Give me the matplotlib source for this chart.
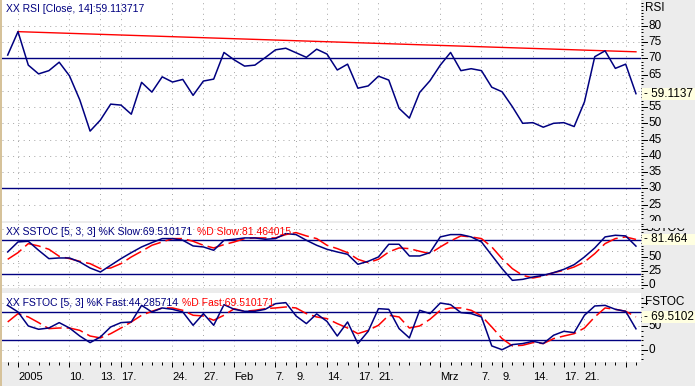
import matplotlib
matplotlib.use("Agg")
import matplotlib.pyplot as plt
from matplotlib.patches import Rectangle
import numpy as np

W, H, DPI = 695, 386, 100

# ---------------- data ----------------
rsi = [71.0, 78.2, 67.9, 65.2, 66.2, 68.8, 64.6, 57.2, 47.6, 51.0,
       55.9, 55.6, 52.8, 62.6, 59.6, 64.3, 62.7, 63.5, 58.6, 63.0,
       63.6, 71.8, 69.5, 67.6, 67.9, 70.2, 72.6, 73.1, 71.7, 70.3,
       72.8, 71.3, 66.4, 68.2, 60.8, 61.5, 64.5, 63.3, 54.6, 51.6,
       59.5, 63.1, 67.9, 71.8, 66.2, 66.8, 66.2, 61.1, 59.7, 55.1,
       50.0, 50.2, 48.8, 50.0, 50.2, 49.0, 56.6, 70.5, 72.3, 66.9,
       68.2, 59.11]
trend_idx = [1, 61]
trend_val = [78.2, 72.0]

sstoc_k = [59, 77, 78.2, 62, 47, 48.2, 48.2, 41, 30.2, 23,
           35, 47, 57.8, 68, 75.8, 83, 83, 80, 69.8, 68,
           62, 80, 81.8, 84.2, 84.2, 81.8, 83, 92, 90.2, 80,
           71, 63.8, 59, 54.8, 36.8, 42.2, 50, 72.8, 72.8, 51.8,
           51.8, 57.8, 86, 90.2, 90.2, 86, 77, 53, 29, 8,
           9.8, 14, 17, 21.8, 27.8, 36.2, 50, 66.2, 86, 89,
           87.8, 69.5]
sstoc_d = [45.8, 57.8, 74, 69.8, 63.8, 51.2, 47, 42.2, 38, 29,
           30.2, 38, 50, 60.2, 71, 77, 83, 83, 78.2, 71,
           66.2, 72.2, 77, 83, 84.2, 84.2, 84.2, 90.2, 93.8, 87.8,
           83, 71, 65, 57.8, 45.8, 39.8, 45.8, 59, 66.2, 65,
           60.2, 56, 68, 78.8, 87.8, 86, 83, 68, 47, 29,
           17, 12.2, 15.8, 21.8, 26, 32, 41, 56, 74, 83,
           86, 81.46]
fstoc_k = [94, 80, 50.3, 43.3, 46, 57.4, 46, 29, 15, 27,
           48.2, 57.4, 58.8, 94, 80, 88.5, 85.6, 80, 51.8, 76.5,
           51.8, 95.5, 85.6, 81.4, 81.4, 85.6, 97.6, 99.8, 71.5, 55.3,
           76, 60, 29, 58.8, 13, 39, 87, 85.6, 44.7, 25,
           83.5, 76.5, 99, 95.5, 78.6, 76.5, 69.4, 8, 0, 10.8,
           13, 17.9, 13, 30.6, 39, 36.2, 73, 92.7, 94, 85.6,
           81.4, 44.29]
fstoc_d = [58.8, 76.5, 69.4, 57.4, 44.7, 46, 46, 41, 29, 25,
           34, 46, 58.8, 73, 81.4, 88.5, 88.5, 83.5, 73, 71.5,
           62.4, 73, 87, 81.4, 83.5, 87, 88.5, 90.6, 88.5, 76.5,
           69.4, 65.9, 55.3, 46, 34, 41, 51.8, 73, 69.4, 46,
           50.3, 64.5, 83.5, 88.5, 88.5, 83.5, 71.5, 48.2, 23.5, 8,
           9.4, 15, 13, 23.5, 29, 34, 46, 69.4, 88.5, 85.6,
           81.4, 69.51]

tick_idx = [1, 6, 9, 11, 16, 19, 22, 26, 28, 31, 34, 36, 42, 46, 48, 51, 54, 56, 60]
tick_lbl = ['2005', '10.', '13.', '17.', '24.', '27.', 'Feb', '7.', '9.', '14.',
            '17.', '21.', 'Mrz', '7.', '9.', '14.', '17.', '21.', '']

rsi_labels = [20, 25, 30, 35, 40, 45, 50, 55, 65, 70, 75, 80]

# ---------------- style ----------------
NAVY = '#000080'
RED = '#ff0000'
GRAY_BG = '#ececec'
GRID = '#a8a8a8'
FONT = 'Liberation Sans'
FS_T = 7.5     # panel titles
FS_G = 8.5     # right gutter
FS_X = 8       # date labels
plt.rcParams['font.family'] = [FONT, 'DejaVu Sans']

fig = plt.figure(figsize=(W / DPI, H / DPI), dpi=DPI, facecolor=GRAY_BG)

XL, XR = 2.0, 640.7
XLIM = (-0.553, 61.46)


def m_rsi(y):
    return 70 - (y - 58.3) / 3.25


def m_ss(y):
    return (284.8 - y) / 0.5567


def m_fs(y):
    return (349.7 - y) / 0.4717


def rect(x0, y0, x1, y1):
    return [x0 / W, 1 - y1 / H, (x1 - x0) / W, (y1 - y0) / H]


def panel(y0, y1, mp, grid_y, solid_y, minor_step):
    ax = fig.add_axes(rect(XL, y0, XR, y1))
    ax.set_facecolor('white')
    ax.set_xlim(*XLIM)
    ax.set_ylim(mp(y1), mp(y0))
    for s in ax.spines.values():
        s.set_visible(False)
    ax.tick_params(axis='x', which='both', bottom=False, labelbottom=False)
    ax.yaxis.tick_right()
    lo, hi = mp(y1), mp(y0)
    minors = [v for v in np.arange(-100, 200, minor_step) if lo <= v <= hi]
    ax.set_yticks(minors, minor=True)
    ax.set_yticks([])
    ax.tick_params(axis='y', which='minor', right=True, length=1.6, width=0.72,
                   direction='out', color='black', labelright=False)
    for xi in tick_idx:
        ax.axvline(xi, color=GRID, lw=0.72, ls=(0, (1, 4.3)), zorder=0.5)
    for gy in grid_y:
        ax.axhline(gy, color=GRID, lw=0.72, ls=(0, (1, 4.3)), zorder=0.5)
    for sy in solid_y:
        ax.axhline(sy, color=NAVY, lw=1.0, zorder=1)
    return ax


def gutter(y0, y1, mp):
    axr = fig.add_axes(rect(XR, y0, W, y1))
    axr.set_xlim(0, 1)
    axr.set_ylim(mp(y1), mp(y0))
    axr.set_facecolor('none')
    for s in axr.spines.values():
        s.set_visible(False)
    axr.set_xticks([])
    axr.set_yticks([])
    return axr


def xfrac(px):
    return (px - XR) / (W - XR)


def right_labels(axr, vals, major_vals):
    tr = axr.get_yaxis_transform()
    for v in major_vals:
        axr.plot([xfrac(642.5), xfrac(646.5)], [v, v], color='black', lw=0.72,
                 transform=tr, clip_on=True, zorder=2)
    for v, s in vals:
        axr.text(xfrac(648.5), v, s, transform=tr, ha='left', va='center',
                 fontsize=FS_G, color='black', clip_on=True, zorder=2)


def value_box(axr, v, s, px_per_unit):
    tr = axr.get_yaxis_transform()
    h = 11.7 / px_per_unit
    axr.add_patch(Rectangle((xfrac(641.5), v - h / 2), 1 - xfrac(641.5), h,
                            transform=tr, facecolor='#ffffe1', edgecolor='none',
                            zorder=3))
    axr.text(xfrac(643.5), v, '- ' + s, transform=tr, ha='left', va='center',
             fontsize=FS_G, color='black', zorder=4, clip_on=True)


def title(y_px, parts):
    prev = None
    for txt, col in parts:
        if prev is None:
            prev = fig.text(6 / W, 1 - y_px / H, txt, fontsize=FS_T, color=col,
                            ha='left', va='center', zorder=1.5)
        else:
            prev = fig.add_artist(matplotlib.text.Annotation(
                txt, xy=(1, 0), xycoords=prev, xytext=(3.2, 0),
                textcoords='offset points', fontsize=FS_T, color=col,
                ha='left', va='bottom'))


x = list(range(len(rsi)))

# ---------------- RSI panel ----------------
R0, R1 = 0.0, 220.5
ax1 = panel(R0, R1, m_rsi, [25, 35, 40, 45, 50, 55, 60, 65, 75, 80], [70, 30], 1)
ax1.plot(trend_idx, trend_val, color=RED, lw=1.0, zorder=2)
ax1.plot(x, rsi, color=NAVY, lw=1.1, zorder=3)
g1 = gutter(R0, R1, m_rsi)
right_labels(g1, [(v, str(v)) for v in rsi_labels], list(range(20, 85, 5)))
g1.text(xfrac(645), m_rsi(8.5), 'RSI', transform=g1.get_yaxis_transform(),
        ha='left', va='center', fontsize=FS_G, clip_on=True)
value_box(g1, 59.1137, '59.1137', 3.25)

# ---------------- SSTOC panel ----------------
S0, S1 = 222.7, 288.3
ax2 = panel(S0, S1, m_ss, [0, 40, 60, 100], [80, 20], 5)
ax2.plot(x, sstoc_d, color=RED, lw=1.1, dashes=(11, 3.3), zorder=2)
ax2.plot(x, sstoc_k, color=NAVY, lw=1.1, zorder=3)
g2 = gutter(227.5, S1, m_ss)
right_labels(g2, [(0, '0'), (25, '25'), (50, '50')], [0, 25, 50, 75, 100])
g2.text(xfrac(645), m_ss(231), 'SSTOC', transform=g2.get_yaxis_transform(),
        ha='left', va='baseline', fontsize=FS_G, clip_on=True)
value_box(g2, 81.464, '81.464', 0.5567)

# ---------------- FSTOC panel ----------------
F0, F1 = 293.3, 361.7
ax3 = panel(F0, F1, m_fs, [0, 50, 100], [80, 20], 10)
ax3.plot(x, fstoc_d, color=RED, lw=1.1, dashes=(11, 3.3), zorder=2)
ax3.plot(x, fstoc_k, color=NAVY, lw=1.1, zorder=3)
g3 = gutter(F0, F1, m_fs)
right_labels(g3, [(0, '0'), (50, '50')], [0, 50, 100])
g3.text(xfrac(645), m_fs(302), 'FSTOC', transform=g3.get_yaxis_transform(),
        ha='left', va='center', fontsize=FS_G, clip_on=True)
value_box(g3, 69.5102, '69.5102', 0.4717)

# titles
title(8.5, [('XX RSI [Close, 14]:59.113717', NAVY)])
title(232, [('XX SSTOC [5, 3, 3] %K Slow:69.510171', NAVY),
            ('%D Slow:81.464015', RED)])
title(303, [('XX FSTOC [5, 3] %K Fast:44.285714', NAVY),
            ('%D Fast:69.510171', RED)])

# date axis on FSTOC panel
ax3.set_xticks(tick_idx)
ax3.set_xticklabels(tick_lbl)
ax3.set_xticks(x, minor=True)
ax3.tick_params(axis='x', which='major', bottom=True, labelbottom=True,
                length=3.6, width=0.72, direction='out', pad=3.5,
                labelsize=FS_X, color='black')
ax3.tick_params(axis='x', which='minor', bottom=True, length=2.3, width=0.72,
                direction='out', color='black')
for lbl in ax3.get_xticklabels():
    lbl.set_ha('left')

# tan left border
fig.add_artist(Rectangle((0, 0), 2 / W, 1, transform=fig.transFigure,
                         facecolor='#d6c29a', edgecolor='none', zorder=10))

fig.savefig('out.png', dpi=DPI, facecolor=GRAY_BG)
